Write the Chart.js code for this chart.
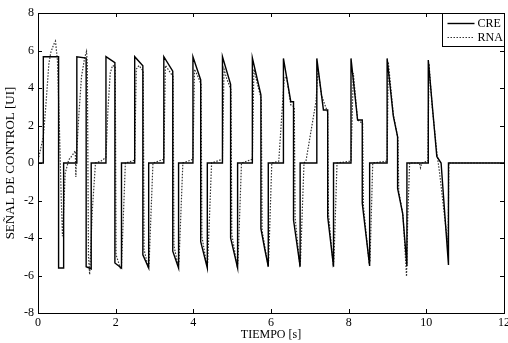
<!DOCTYPE html>
<html>
<head>
<meta charset="utf-8">
<script src="https://cdn.jsdelivr.net/npm/chart.js@4"></script>
<style>
  html, body { margin: 0; padding: 0; background: #fff; }
  #wrap { width: 508px; height: 343px; }
</style>
</head>
<body>
<div id="wrap"><canvas id="chart"></canvas></div>
<script>
// Axis ticks
const xTicks = [0, 2, 4, 6, 8, 10, 12];
const yTicks = [-8, -6, -4, -2, 0, 2, 4, 6, 8];

// CRE (solid) control signal
const creTime = [0, 0.137, 0.137, 0.53, 0.53, 0.66, 0.66, 1.0, 1.0, 1.24, 1.24, 1.37, 1.37,
  1.75, 1.75, 1.98, 1.98, 2.15, 2.15, 2.49, 2.49, 2.70, 2.70, 2.85, 2.85,
  3.24, 3.24, 3.47, 3.47, 3.62, 3.62, 3.99, 3.99, 4.19, 4.19, 4.36, 4.36,
  4.75, 4.75, 4.96, 4.96, 5.14, 5.14, 5.52, 5.52, 5.74, 5.74, 5.84, 5.93, 5.93,
  6.32, 6.32, 6.51, 6.58, 6.58, 6.75, 6.75, 7.18, 7.18, 7.35, 7.46, 7.46, 7.61, 7.61,
  8.06, 8.06, 8.23, 8.35, 8.35, 8.54, 8.54, 8.99, 8.99, 9.15, 9.26, 9.26, 9.39, 9.50, 9.50,
  10.05, 10.05, 10.27, 10.38, 10.57, 10.57, 12];
const creValue = [0, 0, 5.67, 5.67, -5.6, -5.6, 0, 0, 5.67, 5.6, -5.53, -5.65, 0,
  0, 5.67, 5.35, -5.33, -5.6, 0, 0, 5.67, 5.18, -4.9, -5.6, 0,
  0, 5.67, 4.9, -4.7, -5.6, 0, 0, 5.67, 4.43, -4.2, -5.6, 0,
  0, 5.67, 4.2, -4.0, -5.6, 0, 0, 5.6, 3.63, -3.5, -4.6, -5.53, 0,
  0, 5.58, 3.27, 3.27, -3.04, -5.53, 0, 0, 5.58, 2.83, 2.83, -2.86, -5.53, 0,
  0, 5.58, 2.29, 2.29, -2.15, -5.49, 0, 0, 5.58, 2.5, 1.4, -1.35, -2.68, -5.49, 0,
  0, 5.49, 0.35, 0, -5.44, 0, 0];

// RNA (dotted) control signal
const rnaTime = [0, 0.02, 0.137, 0.20, 0.28, 0.33, 0.40, 0.45, 0.50, 0.55, 0.60, 0.63, 0.66, 0.70, 0.79, 0.88, 0.96, 0.975, 0.99,
  1.05, 1.12, 1.20, 1.25, 1.27, 1.30, 1.33, 1.40, 1.48, 1.62, 1.75, 1.80, 1.86, 1.92, 1.99, 2.01, 2.12, 2.15, 2.25,
  2.49, 2.53, 2.60, 2.71, 2.73, 2.84, 2.86, 2.96,
  3.24, 3.28, 3.35, 3.48, 3.50, 3.61, 3.63, 3.73,
  3.99, 4.03, 4.10, 4.20, 4.22, 4.35, 4.37, 4.47,
  4.75, 4.79, 4.86, 4.97, 4.99, 5.13, 5.15, 5.24,
  5.52, 5.56, 5.64, 5.75, 5.77, 5.92, 5.94, 6.02,
  6.20, 6.34, 6.40, 6.51, 6.60, 6.62, 6.74, 6.76, 6.85,
  6.90, 7.16, 7.21, 7.30, 7.46, 7.48, 7.60, 7.62, 7.70,
  8.06, 8.12, 8.23, 8.36, 8.38, 8.53, 8.55, 8.62,
  8.99, 9.02, 9.15, 9.27, 9.29, 9.40, 9.49, 9.52, 9.57,
  9.82, 9.85, 9.88, 10.04, 10.07, 10.15, 10.28, 10.34, 10.45, 10.53, 10.56, 10.58, 12];
const rnaValue = [0, 0.3, 1.4, 3.0, 5.3, 5.9, 6.3, 6.5, 5.5, 2.0, -2.0, -3.9, -2.6, -0.55, 0.16, 0.4, 0.65, -0.75, 0.3,
  2.5, 4.6, 5.6, 5.95, 5.3, -5.0, -5.95, -2.5, 0, 0.1, 0.3, 2.8, 4.8, 5.2, 5.15, -4.9, -5.6, -5.5, 0,
  0.15, 5.0, 5.2, 4.9, -4.6, -5.6, -5.4, 0,
  0.2, 5.2, 5.0, 4.6, -4.4, -5.5, -5.3, 0,
  0.2, 5.0, 4.7, 4.2, -3.9, -5.5, -5.3, 0,
  0.2, 5.0, 4.5, 3.9, -3.8, -5.5, -5.3, 0,
  0.2, 5.0, 4.3, 3.4, -3.6, -5.4, -5.2, 0,
  0.1, 4.5, 4.6, 3.1, 3.0, -2.9, -5.4, -5.2, 0,
  0.1, 3.3, 5.0, 3.6, 2.7, -2.7, -5.4, -5.2, 0,
  0.1, 4.8, 2.3, 2.1, -2.3, -5.4, -5.2, 0,
  0.1, 5.4, 2.6, 1.3, -1.5, -2.8, -6.05, -3.0, 0,
  0, -0.25, 0, 0.1, 5.3, 3.0, 0.4, -0.5, -2.5, -3.9, -4.3, 0, 0];

function toPoints(ts, vs){
  return ts.map((t, i) => ({x: t, y: vs[i]}));
}

const FONT = '"Liberation Serif", "DejaVu Serif", serif';

// Box, inward ticks and legend inside the plot
const framePlugin = {
  id: 'frame',
  afterDraw(chart){
    const ctx = chart.ctx;
    const a = chart.chartArea;
    const sx = chart.scales.x, sy = chart.scales.y;
    ctx.save();
    ctx.strokeStyle = '#000';
    ctx.lineWidth = 1;
    ctx.strokeRect(Math.round(a.left) + 0.5, Math.round(a.top) + 0.5,
      Math.round(a.right - a.left), Math.round(a.bottom - a.top));
    ctx.beginPath();
    xTicks.forEach(v => {
      let px = Math.round(sx.getPixelForValue(v)) + 0.5;
      ctx.moveTo(px, a.bottom); ctx.lineTo(px, a.bottom - 4);
      ctx.moveTo(px, a.top); ctx.lineTo(px, a.top + 4);
    });
    yTicks.forEach(v => {
      let py = Math.round(sy.getPixelForValue(v)) + 0.5;
      ctx.moveTo(a.left, py); ctx.lineTo(a.left + 4, py);
      ctx.moveTo(a.right, py); ctx.lineTo(a.right - 4, py);
    });
    ctx.stroke();

    // legend
    let w = 62, h = 33;
    let lx = Math.round(a.right) - w + 0.5, ly = Math.round(a.top) + 0.5;
    ctx.fillStyle = '#fff';
    ctx.fillRect(lx, ly, w, h);
    ctx.strokeRect(lx, ly, w, h);
    ctx.font = '12px ' + FONT;
    ctx.textBaseline = 'middle';
    chart.data.datasets.forEach((ds, i) => {
      let y = ly + 10 + i * 14;
      ctx.beginPath();
      ctx.strokeStyle = ds.borderColor;
      ctx.lineWidth = ds.borderWidth;
      ctx.setLineDash(ds.borderDash || []);
      ctx.moveTo(lx + 5, y); ctx.lineTo(lx + 32, y);
      ctx.stroke();
      ctx.setLineDash([]);
      ctx.fillStyle = '#000';
      ctx.fillText(ds.label, lx + 35, y);
    });
    ctx.restore();
  }
};

new Chart(document.getElementById('chart'), {
  type: 'line',
  data: {
    datasets: [{
      label: 'CRE',
      data: toPoints(creTime, creValue),
      borderColor: '#000',
      borderWidth: 1.4,
      pointRadius: 0,
      tension: 0
    }, {
      label: 'RNA',
      data: toPoints(rnaTime, rnaValue),
      borderColor: '#333',
      borderWidth: 1.2,
      borderDash: [1.5, 1.5],
      pointRadius: 0,
      tension: 0
    }]
  },
  options: {
    responsive: true,
    maintainAspectRatio: false,
    animation: false,
    layout: {padding: {top: 13, right: 4, left: 3, bottom: 0}},
    plugins: {legend: {display: false}, tooltip: {enabled: false}},
    scales: {
      x: {
        type: 'linear', min: 0, max: 12,
        grid: {display: false, drawTicks: false},
        border: {display: false},
        ticks: {stepSize: 2, color: '#000', font: {family: FONT, size: 12}, padding: 3, maxRotation: 0},
        title: {display: true, text: 'TIEMPO [s]', color: '#000', font: {family: FONT, size: 12}, padding: {top: 0, bottom: 1}},
        afterFit(scale){ scale.height = 30; scale.paddingRight = 0; }
      },
      y: {
        min: -8, max: 8,
        grid: {display: false, drawTicks: false},
        border: {display: false},
        ticks: {stepSize: 2, color: '#000', font: {family: FONT, size: 12}, padding: 4},
        title: {display: true, text: 'SEÑAL DE CONTROL [UI]', color: '#000', font: {family: FONT, size: 13}, padding: {top: 0, bottom: 0}},
        afterFit(scale){ scale.width = 35; }
      }
    }
  },
  plugins: [framePlugin]
});
</script>
</body>
</html>
